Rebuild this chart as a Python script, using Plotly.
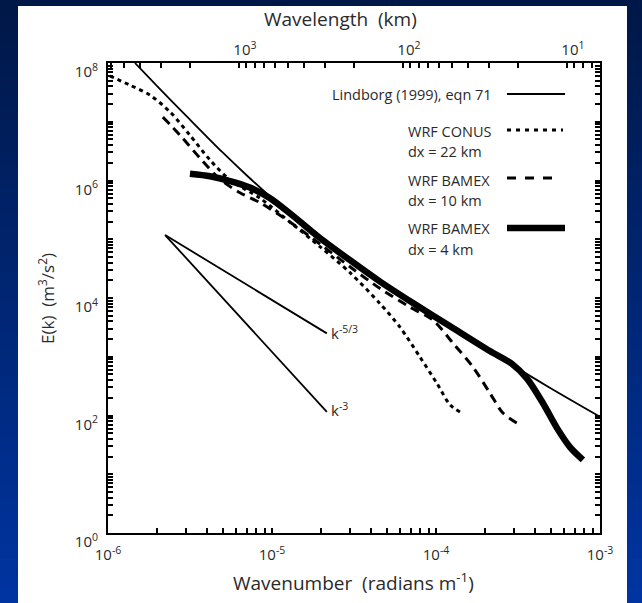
import math
import plotly.graph_objects as go

# ---------------- data ----------------
k_lindborg = [1.46e-6, 2e-6, 3e-6, 5e-6, 7e-6, 1e-5, 1.5e-5, 2e-5, 3e-5, 5e-5, 7e-5, 1e-4, 2e-4, 3e-4, 5e-4, 1e-3]
E_lindborg = [1.0e8, 4.0e7, 1.26e7, 3.0e6, 1.23e6, 5.0e5, 1.89e5, 9.9e4, 4.25e4, 1.58e4, 8.5e3, 4.5e3, 1.37e3, 687, 291, 95]

k_conus = [1.03e-6, 1.36e-6, 1.80e-6, 2.39e-6, 3.16e-6, 4.19e-6, 5.55e-6, 8.45e-6, 1.29e-5, 1.96e-5,
           2.99e-5, 4.56e-5, 6.03e-5, 7.98e-5, 1.01e-4, 1.22e-4, 1.40e-4]
E_conus = [6.0e7, 4.2e7, 2.85e7, 1.47e7, 5.9e6, 2.23e6, 1.02e6, 5.0e5, 1.95e5, 7.5e4,
           2.7e4, 8.0e3, 3.2e3, 990, 357, 151, 115]

k_bamex10 = [2.16e-6, 2.75e-6, 3.64e-6, 4.82e-6, 6.38e-6, 8.45e-6, 1.29e-5, 1.96e-5, 2.99e-5,
             4.56e-5, 6.93e-5, 9.59e-5, 1.27e-4, 1.68e-4, 2.13e-4, 2.56e-4, 3.12e-4]
E_bamex10 = [1.2e7, 5.9e6, 2.4e6, 1.05e6, 6.2e5, 4.2e5, 1.95e5, 8.3e4, 3.4e4,
             1.45e4, 7.0e3, 4.2e3, 1.7e3, 670, 242, 110, 74]

k_bamex4 = [3.16e-6, 4.19e-6, 5.55e-6, 7.34e-6, 9.73e-6, 1.29e-5, 1.96e-5, 2.99e-5, 4.56e-5,
            7.24e-5, 1.22e-4, 2.13e-4, 2.9e-4, 3.6e-4, 4.5e-4, 5.47e-4, 6.56e-4, 7.87e-4]
E_bamex4 = [1.3e6, 1.18e6, 9.8e5, 7.6e5, 5.0e5, 2.75e5, 1.05e5, 4.4e4, 1.9e4,
            8.2e3, 3.3e3, 1.25e3, 760, 420, 160, 61, 29, 17.5]

k_ref = [2.23e-6, 2.16e-5]
E_ref_53 = [1.18e5, 2.5e3]
E_ref_3 = [1.18e5, 115]

x_tick_vals = [1e-6, 1e-5, 1e-4, 1e-3]
x_tick_text = ["10<sup>-6</sup>", "10<sup>-5</sup>", "10<sup>-4</sup>", "10<sup>-3</sup>"]
y_tick_vals = [1e0, 1e2, 1e4, 1e6, 1e8]
y_tick_text = ["10<sup>0</sup>", "10<sup>2</sup>", "10<sup>4</sup>", "10<sup>6</sup>", "10<sup>8</sup>"]
wl_major_km = [1000, 100, 10]
wl_major_text = ["10<sup>3</sup>", "10<sup>2</sup>", "10<sup>1</sup>"]

# ---------------- layout geometry ----------------
W, H = 642, 603
L, R, T, B = 108, 600, 63, 533
def X(px): return (px - L) / (R - L)
def Y(py): return (B - py) / (B - T)

TWO_PI = 2 * math.pi

# minor tick positions (unlabelled)
x_minor = [m * 10 ** d for d in (-6, -5, -4) for m in range(2, 10)]
y_minor = [m * 10 ** d for d in range(0, 8) for m in range(1, 10) if not (m == 1 and d % 2 == 0)]

top_major = [TWO_PI / (lam * 1000.0) for lam in wl_major_km]
top_minor = []
for d in (3, 2, 1, 0):
    for m in range(2, 10):
        kk = TWO_PI / (m * 10 ** d * 1000.0)
        if 1e-6 <= kk <= 1e-3:
            top_minor.append(kk)

FONT = "Open Sans"
TXT = "#2a2a2a"

fig = go.Figure()
def line_trace(x, y, width, dash=None, shape="spline"):
    fig.add_trace(go.Scatter(x=x, y=y, mode="lines",
                             line=dict(color="black", width=width, dash=dash, shape=shape, smoothing=0.8),
                             showlegend=False, hoverinfo="skip"))

line_trace(k_lindborg, E_lindborg, 1.8)
line_trace(k_conus, E_conus, 3, "4px,4px")
line_trace(k_bamex10, E_bamex10, 3, "9px,6px")
line_trace(k_bamex4, E_bamex4, 6.5)
line_trace(k_ref, E_ref_53, 1.8, shape="linear")
line_trace(k_ref, E_ref_3, 1.8, shape="linear")
fig.add_trace(go.Scatter(x=[1e-5], y=[1e4], xaxis="x2", mode="markers", marker=dict(opacity=0),
                         showlegend=False, hoverinfo="skip"))

shapes = []
n = 40
c0 = (0, 24, 72)
c1 = (0, 52, 160)
y_top = Y(0); y_bot = Y(H)
for i in range(n):
    f = i / (n - 1)
    col = "rgb(%d,%d,%d)" % tuple(int(round(a + (b - a) * f)) for a, b in zip(c0, c1))
    ya = y_top + (y_bot - y_top) * i / n
    yb = y_top + (y_bot - y_top) * (i + 1) / n
    shapes.append(dict(type="rect", xref="paper", yref="paper", x0=X(0), x1=X(W), y0=yb - 0.002, y1=ya,
                       fillcolor=col, line=dict(width=0), layer="below"))
shapes.append(dict(type="rect", xref="paper", yref="paper", x0=X(18), x1=X(627), y0=Y(H), y1=Y(6),
                   fillcolor="white", line=dict(width=0), layer="below"))

# legend samples
shapes.append(dict(type="line", xref="paper", yref="paper", x0=X(507), x1=X(565), y0=Y(94), y1=Y(94),
                   line=dict(color="black", width=1.8)))
shapes.append(dict(type="line", xref="paper", yref="paper", x0=X(507), x1=X(563), y0=Y(130), y1=Y(130),
                   line=dict(color="black", width=3, dash="4px,5px")))
shapes.append(dict(type="line", xref="paper", yref="paper", x0=X(507), x1=X(558), y0=Y(178), y1=Y(178),
                   line=dict(color="black", width=3, dash="9px,9px")))
shapes.append(dict(type="line", xref="paper", yref="paper", x0=X(507), x1=X(565), y0=Y(228), y1=Y(228),
                   line=dict(color="black", width=6.5)))

ann = []
def txt(px, py, s, size=14.5, xanchor="left", angle=0):
    ann.append(dict(x=X(px), y=Y(py), xref="paper", yref="paper", text=s, showarrow=False,
                    xanchor=xanchor, yanchor="middle", textangle=angle,
                    font=dict(family=FONT, size=size, color=TXT)))

txt(494, 94, "Lindborg (1999), eqn 71", xanchor="right")
txt(406, 131, "WRF CONUS")
txt(406, 151, "dx = 22 km")
txt(406, 180, "WRF BAMEX")
txt(406, 200, "dx = 10 km")
txt(406, 229, "WRF BAMEX")
txt(406, 249, "dx = 4 km")
txt(329, 332, "k<sup>-5/3</sup>", size=15)
txt(329, 409, "k<sup>-3</sup>", size=15)
txt(353, 582, "Wavenumber&nbsp;&nbsp;(radians m<sup>-1</sup>)", size=19, xanchor="center")
txt(340, 19, "Wavelength&nbsp;&nbsp;(km)", size=19, xanchor="center")
txt(46, 299, "E(k)&nbsp;&nbsp;(m<sup>3</sup>/s<sup>2</sup>)", size=17, xanchor="center", angle=-90)

axis_common = dict(type="log", showgrid=False, zeroline=False, showline=True, linecolor="black", linewidth=2,
                   ticks="inside", ticklen=5, tickwidth=1.5, tickcolor="black",
                   tickfont=dict(family=FONT, size=15, color=TXT))
def minor(vals):
    return dict(tickmode="array", tickvals=vals, ticks="inside", ticklen=5, tickwidth=1.5,
                tickcolor="black", showgrid=False)

fig.update_layout(
    width=W, height=H,
    margin=dict(l=L, r=W - R, t=T, b=H - B, pad=0),
    paper_bgcolor="rgb(0,36,110)", plot_bgcolor="white",
    showlegend=False,
    xaxis=dict(range=[-6, -3], tickmode="array", tickvals=x_tick_vals, ticktext=x_tick_text,
               minor=minor(x_minor), ticklabelstandoff=7, **axis_common),
    xaxis2=dict(range=[-6, -3], overlaying="x", side="top", anchor="y", tickmode="array",
                tickvals=top_major, ticktext=wl_major_text, minor=minor(top_minor),
                ticklabelshift=6, **axis_common),
    yaxis=dict(range=[0, 8], tickmode="array", tickvals=y_tick_vals, ticktext=y_tick_text, mirror="ticks",
               minor=minor(y_minor), ticklabelshift=9, ticklabelstandoff=5, **axis_common),
    shapes=shapes, annotations=ann,
)

fig.write_html("out.html", config={"displayModeBar": False},
               post_script="document.body.style.margin='0';")
